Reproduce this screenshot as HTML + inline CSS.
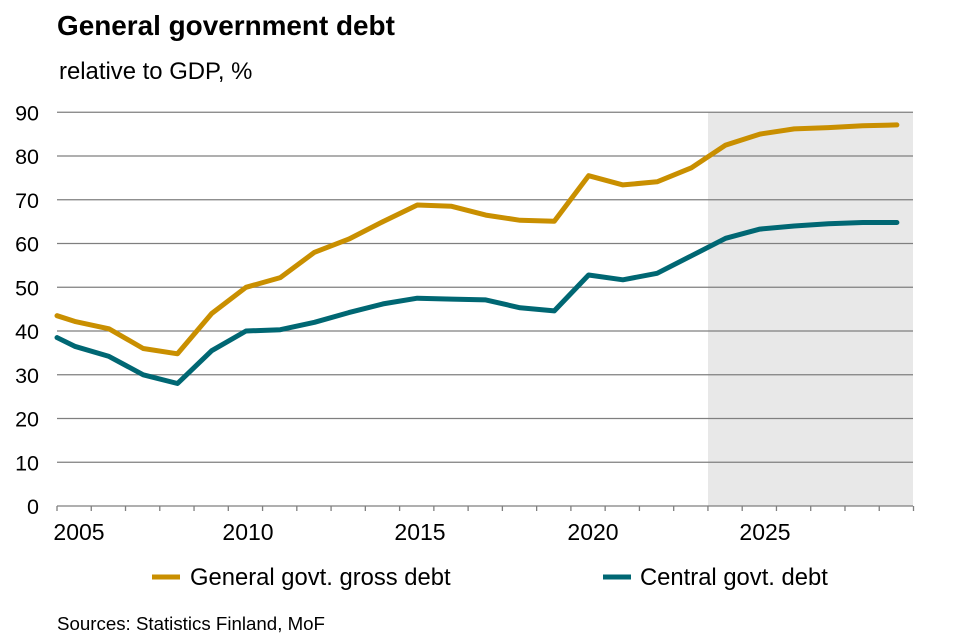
<!DOCTYPE html>
<html><head><meta charset="utf-8"><style>
body{margin:0;background:#fff}
svg text{font-family:"Liberation Sans",Arial,sans-serif;fill:#000}
</style></head><body>
<svg id="s" width="977" height="638" viewBox="0 0 977 638" xmlns="http://www.w3.org/2000/svg">
<rect x="708" y="112" width="205" height="394" fill="#e8e8e8"/>
<g id="grid" stroke="#7f7f7f" stroke-width="1.3"></g>
<g id="lab" font-size="21.5" text-anchor="end"></g>
<g id="xl" font-size="23" text-anchor="middle">
<text x="79" y="540">2005</text><text x="248" y="540">2010</text><text x="420" y="540">2015</text><text x="593" y="540">2020</text><text x="765" y="540">2025</text>
</g>
<polyline id="g" fill="none" stroke="#c98f00" stroke-width="5" stroke-linejoin="round" stroke-linecap="round"/>
<polyline id="c" fill="none" stroke="#006773" stroke-width="5" stroke-linejoin="round" stroke-linecap="round"/>
<text x="57" y="35" font-size="27.9" font-weight="bold">General government debt</text>
<text x="59" y="79" font-size="23.9">relative to GDP, %</text>
<line x1="152" y1="577" x2="180" y2="577" stroke="#c98f00" stroke-width="5"/>
<text x="190" y="585" font-size="23.8">General govt. gross debt</text>
<line x1="603" y1="577" x2="631" y2="577" stroke="#006773" stroke-width="5"/>
<text x="640" y="585" font-size="23.8">Central govt. debt</text>
<text x="57" y="630" font-size="18.7">Sources: Statistics Finland, MoF</text>
</svg>
<script>
var ns="http://www.w3.org/2000/svg";
function Y(v){return 506-v*4.375;}
var gr=document.getElementById('grid'),lb=document.getElementById('lab');
for(var v=0;v<=90;v+=10){var l=document.createElementNS(ns,'line');l.setAttribute('x1',57);l.setAttribute('x2',913);l.setAttribute('y1',Y(v));l.setAttribute('y2',Y(v));gr.appendChild(l);
var t=document.createElementNS(ns,'text');t.setAttribute('x',39);t.setAttribute('y',Y(v)+8);t.textContent=v;lb.appendChild(t);}
for(var x=57;x<=914;x+=34.26){var l=document.createElementNS(ns,'line');l.setAttribute('x1',x);l.setAttribute('x2',x);l.setAttribute('y1',506);l.setAttribute('y2',511);gr.appendChild(l);}
var G=[42.2,40.5,36,34.8,44,50,52.2,58,61,65,68.8,68.5,66.5,65.3,65.1,75.5,73.4,74.1,77.3,82.5,85,86.2,86.5,86.9,87.1];
var C=[36.5,34.2,30,28,35.5,40,40.3,42,44.2,46.2,47.5,47.3,47.1,45.3,44.6,52.8,51.7,53.2,57.2,61.2,63.3,64,64.5,64.8,64.8];
function pts(s,a){var p=["57,"+Y(s)];for(var k=0;k<a.length;k++)p.push((74.7+34.26*k).toFixed(1)+","+Y(a[k]).toFixed(1));return p.join(" ");}
document.getElementById('g').setAttribute('points',pts(43.5,G));
document.getElementById('c').setAttribute('points',pts(38.5,C));
</script>
</body></html>
